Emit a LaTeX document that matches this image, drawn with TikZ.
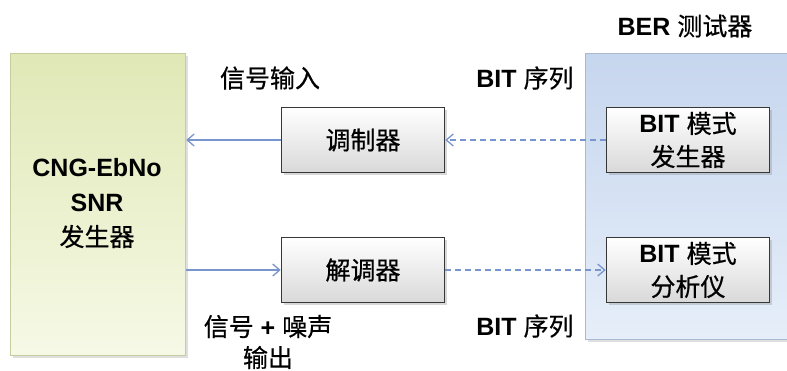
\documentclass[tikz,border=0pt]{standalone}
\usepackage{fontspec}
\setmainfont{Liberation Sans}[BoldFont={Liberation Sans Bold}]
\newfontfamily\cjk{Noto Sans CJK SC}[FakeBold=0.6]
\usetikzlibrary{arrows.meta,shadows}
\definecolor{lgtop}{RGB}{224,232,182}
\definecolor{lgbot}{RGB}{246,249,230}
\definecolor{lgedge}{RGB}{195,205,160}
\definecolor{rbtop}{RGB}{198,214,238}
\definecolor{rbbot}{RGB}{230,238,249}
\definecolor{rbedge}{RGB}{170,185,210}
\definecolor{arr}{RGB}{120,150,205}
\definecolor{boxedge}{RGB}{55,55,55}
\newcommand{\lt}[1]{{\bfseries #1}}
\newcommand{\ck}[1]{{\cjk #1}}
\tikzset{
  big/.style={draw, line width=1.2pt, inner sep=0pt, drop shadow={opacity=0.25, shadow xshift=2pt, shadow yshift=-2pt}},
  inbox/.style={draw=boxedge, line width=1.6pt, top color=white, bottom color=black!15, minimum width=163pt, minimum height=65pt, inner sep=0pt, align=center, font=\fontsize{25}{33}\selectfont, drop shadow={opacity=0.3, shadow xshift=2pt, shadow yshift=-2pt}},
  lbl/.style={font=\fontsize{25}{31}\selectfont, align=center, inner sep=0pt},
  sig/.style={draw=arr, line width=1.3pt, -{Straight Barb[length=7pt,width=12pt,line width=1.3pt]}},
  sigd/.style={sig, dashed, dash pattern=on 6pt off 4pt}
}
\begin{document}
\begin{tikzpicture}[x=1pt,y=-1pt]
\useasboundingbox (0,0) rectangle (787,370);
\fill[white] (0,0) rectangle (787,370);
\clip (0,0) rectangle (787,370);
% left generator box
\node[big, draw=lgedge, top color=lgtop, bottom color=lgbot, minimum width=175pt, minimum height=302pt, anchor=north west] (lbox) at (10,53) {};
\node[lbl, font=\fontsize{25}{35}\selectfont] (ltext) at (97,203) {\lt{CNG-EbNo}\\\lt{SNR}\\\ck{发生器}};
% right BER tester box
\node[big, draw=rbedge, top color=rbtop, bottom color=rbbot, minimum width=230pt, minimum height=286pt, anchor=north west] (rbox) at (585,53) {};
\node[lbl] (rtitle) at (685,26) {\lt{BER} \ck{测试器}};
% inner boxes
\node[inbox] (mod) at (363,140) {\ck{调制器}};
\node[inbox] (demod) at (363,270) {\ck{解调器}};
\node[inbox] (gen) at (688,140) {\lt{BIT} \ck{模式}\\\ck{发生器}};
\node[inbox] (ana) at (688,270) {\lt{BIT} \ck{模式}\\\ck{分析仪}};
% connectors
\draw[sig] (mod.west) -- (mod.west -| lbox.east);
\draw[sigd] (gen.west) -- (mod.east);
\draw[sig] (demod.west -| lbox.east) -- (demod.west);
\draw[sigd] (demod.east) -- (ana.west);
% labels
\node[lbl] (in) at (270,78) {\ck{信号输入}};
\node[lbl] (bs1) at (525,78) {\lt{BIT} \ck{序列}};
\node[lbl] (out) at (268,342) {\ck{信号} \lt{+} \ck{噪声}\\\ck{输出}};
\node[lbl] (bs2) at (525,326) {\lt{BIT} \ck{序列}};
\end{tikzpicture}
\end{document}
